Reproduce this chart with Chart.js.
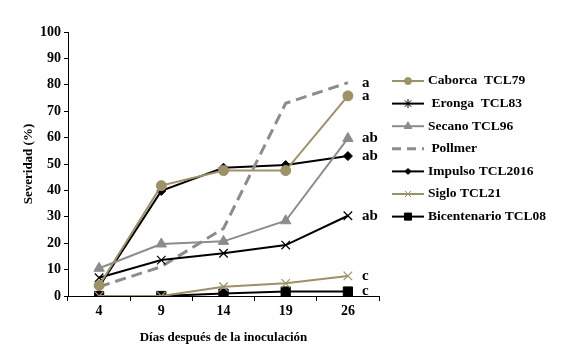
<!DOCTYPE html>
<html lang="es">
<head>
<meta charset="UTF-8">
<title>Severidad</title>
<script src="https://cdn.jsdelivr.net/npm/chart.js"></script>
<style>
    body { margin: 0; background: #ffffff; }
    .wrap { width: 564px; height: 349px; position: relative; }
</style>
</head>
<body>
<div class="wrap"><canvas id="sevChart" width="564" height="349"></canvas></div>
<script>
// days after inoculation
const dias = ['4', '9', '14', '19', '26'];

const caborca = [4, 41.8, 47.5, 47.5, 75.8];
const eronga = [6.9, 13.6, 16.2, 19.3, 30.4];
const secano = [10.5, 19.7, 20.7, 28.5, 59.7];
const pollmer = [3.5, 11.1, 25.6, 73, 80.8];
const impulso = [3.5, 39.8, 48.6, 49.6, 53];
const siglo = [0, 0, 3.5, 4.8, 7.6];
const bicentenario = [0, 0, 0.9, 1.7, 1.7];

const letras = ['a', 'ab', 'ab', 'a', 'ab', 'c', 'c'];
const nombres = ['Caborca  TCL79', ' Eronga  TCL83', 'Secano TCL96', ' Pollmer',
                 'Impulso TCL2016', 'Siglo TCL21', 'Bicentenario TCL08'];

const olive = '#9e9163';
const gris = '#8c8c8c';

const datasets = [
    { label: nombres[0], data: caborca, borderColor: olive, backgroundColor: olive,
      pointStyle: 'circle', pointRadius: 5, pointBorderWidth: 1, borderWidth: 2 },
    { label: nombres[1], data: eronga, borderColor: '#000', backgroundColor: '#000',
      pointStyle: 'crossRot', pointRadius: 6, borderWidth: 2, pointBorderWidth: 1.2, legendStyle: 'star' },
    { label: nombres[2], data: secano, borderColor: gris, backgroundColor: gris,
      pointStyle: 'triangle', pointRadius: 6, pointBorderWidth: 1, borderWidth: 2 },
    { label: nombres[3], data: pollmer, borderColor: gris, backgroundColor: gris,
      pointRadius: 0, borderWidth: 3, borderDash: [11, 6] },
    { label: nombres[4], data: impulso, borderColor: '#000', backgroundColor: '#000',
      pointStyle: 'rectRot', pointRadius: 4.5, pointBorderWidth: 1, borderWidth: 2 },
    { label: nombres[5], data: siglo, borderColor: olive, backgroundColor: olive,
      pointStyle: 'crossRot', pointRadius: 6, borderWidth: 2, pointBorderWidth: 1.2 },
    { label: nombres[6], data: bicentenario, borderColor: '#000', backgroundColor: '#000',
      pointStyle: 'rect', pointRadius: 6.5, pointBorderWidth: 1, borderWidth: 2 }
];
datasets.forEach(d => { d.tension = 0; d.fill = false; d.pointHoverRadius = d.pointRadius; });

// letters next to the last point of each line
const letrasPlugin = {
    id: 'letras',
    afterDatasetsDraw(chart) {
        const ctx = chart.ctx;
        ctx.save();
        ctx.font = 'bold 15px "Liberation Serif"';
        ctx.fillStyle = '#000';
        ctx.textBaseline = 'middle';
        chart.data.datasets.forEach((ds, i) => {
            const pts = chart.getDatasetMeta(i).data;
            const p = pts[pts.length - 1];
            ctx.fillText(letras[i], p.x + 14, p.y);
        });
        ctx.restore();
    }
};

// legend drawn by hand: line with marker in the middle
const leyendaPlugin = {
    id: 'leyenda',
    afterDraw(chart) {
        const ctx = chart.ctx;
        const x0 = 392, x1 = 424, y0 = 81, dy = 22.6;
        ctx.save();
        ctx.font = 'bold 13.5px "Liberation Serif"';
        ctx.textBaseline = 'middle';
        chart.data.datasets.forEach((ds, i) => {
            const y = y0 + i * dy;
            ctx.strokeStyle = ds.borderColor;
            ctx.lineWidth = ds.borderWidth;
            ctx.setLineDash(ds.borderDash ? [9, 6] : []);
            ctx.beginPath();
            ctx.moveTo(x0, y);
            ctx.lineTo(x1, y);
            ctx.stroke();
            ctx.setLineDash([]);
            if (ds.pointRadius > 0) {
                ctx.fillStyle = ds.backgroundColor;
                ctx.strokeStyle = ds.borderColor;
                ctx.lineWidth = 1;
                Chart.helpers.drawPoint(ctx, {
                    pointStyle: ds.legendStyle || ds.pointStyle, radius: ds.pointRadius - 1.5,
                    borderWidth: 1, rotation: 0
                }, (x0 + x1) / 2, y);
            }
            ctx.fillStyle = '#000';
            ctx.fillText(ds.label, x1 + 4, y);
        });
        ctx.restore();
    }
};

new Chart(document.getElementById('sevChart'), {
    type: 'line',
    data: { labels: dias, datasets: datasets },
    options: {
        responsive: false,
        animation: false,
        layout: { padding: { top: 32, right: 185, left: 0, bottom: 0 } },
        plugins: { legend: { display: false }, tooltip: { enabled: false } },
        scales: {
            x: {
                offset: true,
                grid: { display: true, drawOnChartArea: false, offset: true, tickLength: 5, color: '#000' },
                border: { display: true, color: '#000', width: 1 },
                ticks: { color: '#000', font: { family: 'Liberation Serif', size: 14, weight: 'bold' }, padding: 2 },
                title: { display: true, text: 'Días después de la inoculación', color: '#000',
                         font: { family: 'Liberation Serif', size: 13, weight: 'bold' }, padding: { top: 2 } },
                afterFit(s) { s.height = 53; }
            },
            y: {
                min: 0, max: 100,
                grid: { display: true, drawOnChartArea: false, tickLength: 4, color: '#000' },
                border: { display: true, color: '#000', width: 1 },
                ticks: { stepSize: 10, color: '#000', font: { family: 'Liberation Serif', size: 14, weight: 'bold' }, padding: 3 },
                title: { display: true, text: 'Severidad (%)', color: '#000',
                         font: { family: 'Liberation Serif', size: 13, weight: 'bold' }, padding: { top: 21, bottom: 0 } },
                afterFit(s) { s.width = 68; }
            }
        }
    },
    plugins: [letrasPlugin, leyendaPlugin]
});
</script>
</body>
</html>
